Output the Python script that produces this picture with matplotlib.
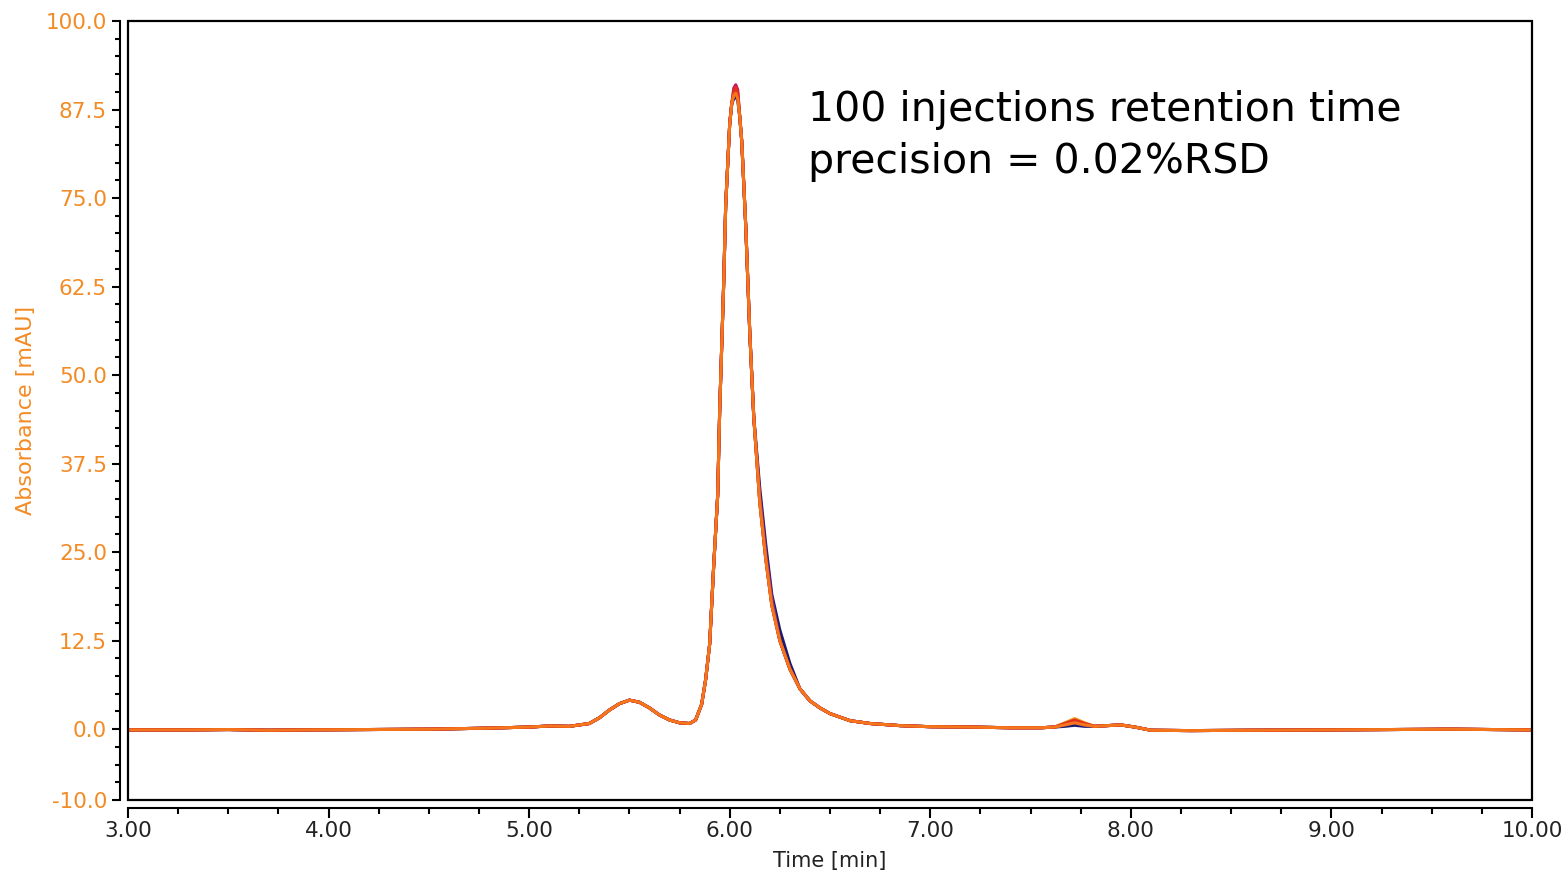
import matplotlib
matplotlib.use("Agg")
import matplotlib.pyplot as plt
from matplotlib.patches import Rectangle
import numpy as np

# retention time points [min] and absorbance of the top (orange) trace [mAU]
time = [3.0, 3.3, 3.5, 3.7, 3.9, 4.2, 4.5, 4.8, 5.0, 5.1, 5.2, 5.3, 5.35, 5.4,
        5.45, 5.5, 5.55, 5.6, 5.65, 5.7, 5.75, 5.8, 5.83, 5.86, 5.88, 5.9, 5.92,
        5.94, 5.95, 5.97, 5.98, 6.0, 6.01, 6.02, 6.03, 6.04, 6.05, 6.06, 6.08,
        6.1, 6.12, 6.15, 6.18, 6.21, 6.25, 6.3, 6.35, 6.4, 6.45, 6.5, 6.6, 6.7,
        6.85, 7.0, 7.2, 7.4, 7.55, 7.62, 7.67, 7.72, 7.77, 7.82, 7.88, 7.95,
        8.02, 8.1, 8.3, 8.6, 9.0, 9.3, 9.6, 10.0]
base = [-0.1, -0.1, -0.05, -0.15, -0.1, -0.05, 0.0, 0.15, 0.3, 0.45, 0.4, 0.8,
        1.6, 2.7, 3.6, 4.1, 3.8, 3.0, 2.0, 1.3, 0.9, 0.8, 1.3, 3.5, 7.0, 12.0,
        23.0, 33.0, 45.0, 63.0, 74.0, 85.5, 88.3, 89.5, 89.8, 89.0, 86.5, 83.0,
        71.0, 56.0, 44.0, 32.0, 24.0, 17.5, 12.5, 8.5, 5.7, 4.0, 3.0, 2.2, 1.2,
        0.8, 0.5, 0.35, 0.3, 0.2, 0.2, 0.3, 0.6, 0.9, 0.6, 0.4, 0.5, 0.6, 0.3,
        -0.15, -0.2, -0.15, -0.1, -0.05, 0.0, -0.1]

# per-injection differences read near the peak apex, tail and the 7.7 min peak
colors = ['#f59a23', '#1c1c6e', '#6a2c91', '#c2185b', '#e0301e', '#f5761a']
overrides = [
    {6.02: 89.8, 6.03: 90.2, 6.04: 89.4, 7.67: 0.9, 7.72: 1.5, 7.77: 0.9},
    {6.02: 89.0, 6.03: 89.3, 6.04: 88.8, 6.15: 34.0, 6.18: 26.0, 6.21: 19.0,
     6.25: 14.0, 6.3: 9.3, 7.67: 0.4, 7.72: 0.55, 7.77: 0.4},
    {6.02: 89.6, 6.03: 90.0, 6.04: 89.4, 6.15: 33.0, 6.18: 25.0, 6.21: 18.5,
     7.67: 0.6, 7.72: 0.9, 7.77: 0.55},
    {6.02: 90.5, 6.03: 91.0, 6.04: 90.3, 7.67: 0.7, 7.72: 1.1, 7.77: 0.7},
    {6.02: 90.0, 6.03: 90.6, 6.04: 89.8, 7.67: 0.8, 7.72: 1.3, 7.77: 0.8},
    {},
]

y_major = [-10.0, 0.0, 12.5, 25.0, 37.5, 50.0, 62.5, 75.0, 87.5, 100.0]
x_major = [3.0, 4.0, 5.0, 6.0, 7.0, 8.0, 9.0, 10.0]

orange = '#f38b25'
px = 72 / 100  # points per pixel

fig = plt.figure(figsize=(15.68, 8.77), dpi=100)
ax = fig.add_axes([128 / 1568, 1 - 800 / 877, 1404 / 1568, 779 / 877])

for col, ov in zip(colors, overrides):
    y = list(base)
    for t, v in ov.items():
        y[time.index(t)] = v
    ax.plot(time, y, color=col, lw=2.2, solid_joinstyle='round',
            solid_capstyle='round')

ax.set_xlim(3, 10)
ax.set_ylim(-10, 100)

ax.set_yticks(y_major)
ax.set_yticks([v for v in np.arange(-7.5, 100, 2.5) if v not in y_major], minor=True)
ax.set_yticklabels([f"{v:.1f}" for v in y_major])
ax.set_xticks(x_major)
ax.set_xticks([v for v in np.arange(3.25, 10, 0.25) if v not in x_major], minor=True)
ax.set_xticklabels([f"{v:.2f}" for v in x_major])

for s in ['top', 'right']:
    ax.spines[s].set_visible(False)
ax.spines['left'].set_position(('outward', 8 * px))
ax.spines['bottom'].set_position(('outward', 7.5 * px))
for s in ['left', 'bottom']:
    ax.spines[s].set_linewidth(1.5)
ax.add_patch(Rectangle((0, 0), 1, 1, transform=ax.transAxes, fill=False,
                       ec='black', lw=1.6, clip_on=False, zorder=5))

ax.tick_params(axis='y', which='major', length=8 * px, width=1.5, pad=5 * px,
               labelsize=15.5, labelcolor=orange)
ax.tick_params(axis='y', which='minor', length=5 * px, width=1.5)
ax.tick_params(axis='x', which='major', length=9.5 * px, width=1.5, pad=4 * px,
               labelsize=15.5, labelcolor='#222222')
ax.tick_params(axis='x', which='minor', length=5.5 * px, width=1.5)

ax.set_ylabel('Absorbance [mAU]', fontsize=16, color=orange)
ax.yaxis.set_label_coords(-0.0655, 0.5)
ax.set_xlabel('Time [min]', fontsize=15, color='#222222')
ax.xaxis.set_label_coords(0.5, -0.066)

ax.text(0.484, 0.912, '100 injections retention time\nprecision = 0.02%RSD',
        transform=ax.transAxes, fontsize=29.5, va='top', ha='left',
        linespacing=1.4, color='black')

fig.savefig('out.png', dpi=100)
